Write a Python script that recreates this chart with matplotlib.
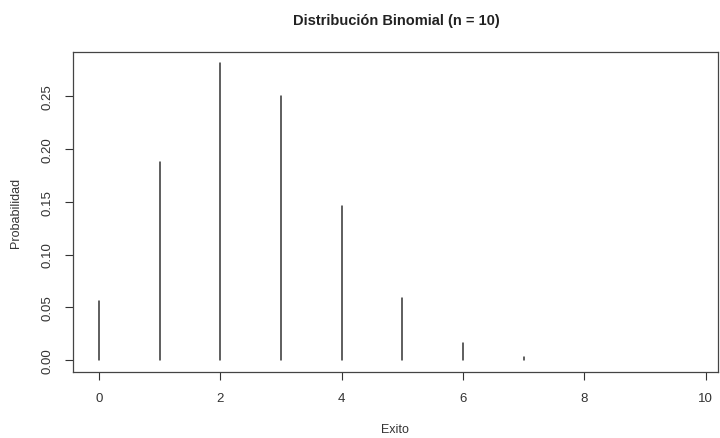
import numpy as np
import matplotlib
matplotlib.use("Agg")
import matplotlib.pyplot as plt

plt.rcParams['font.family'] = ['Liberation Sans', 'DejaVu Sans']

exitos = [0, 1, 2, 3, 4, 5, 6, 7, 8, 9, 10]
probabilidad = [0.0563, 0.1877, 0.2816, 0.2503, 0.1460, 0.0584, 0.0162, 0.0031, 0.0004, 0.00003, 0.000001]
x_ticks = [0, 2, 4, 6, 8, 10]
y_ticks = [0.00, 0.05, 0.10, 0.15, 0.20, 0.25]

fig = plt.figure(figsize=(7.2, 4.39), dpi=100)
ax = fig.add_axes([0.101, 0.150, 0.896, 0.729])

# R-style type="h" lines, round caps so near-zero values still leave a dot
ax.vlines(exitos, 0, probabilidad, color='#333333', linewidth=1.1, capstyle='round')

ax.set_xlim(-0.43, 10.2)
ax.set_ylim(-0.0114, 0.2917)
ax.set_xticks(x_ticks)
ax.set_yticks(y_ticks)
ax.set_yticklabels(["{:.2f}".format(v) for v in y_ticks], rotation=90, va='center')
ax.tick_params(axis='both', labelsize=9.5, colors='#333333', length=6, width=0.8, direction='out', pad=8)
for s in ax.spines.values():
    s.set_color('#444444')
    s.set_linewidth(0.9)

ax.set_xlabel("Exito", fontsize=9, color='#333333', labelpad=14)
ax.set_ylabel("Probabilidad", fontsize=9, color='#333333', labelpad=14)
fig.text(0.55, 0.953, "Distribución Binomial (n = 10)", ha='center', va='center', fontsize=10.5, fontweight='bold', color='#222222')

plt.savefig("out.png", dpi=100)
